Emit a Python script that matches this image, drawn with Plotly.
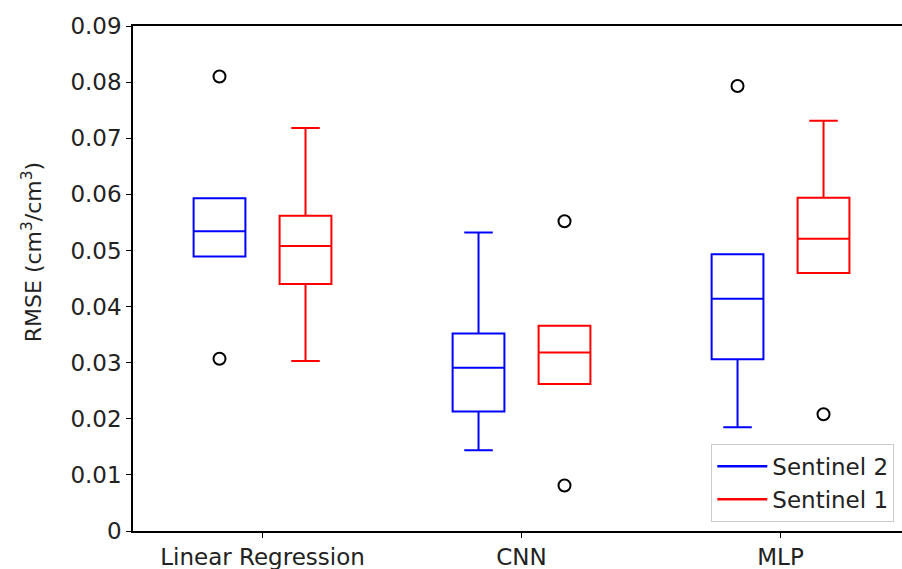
import plotly.graph_objects as go

# ---- data ----
categories = ["Linear Regression", "CNN", "MLP"]
series_names = ["Sentinel 2", "Sentinel 1"]
series_colors = ["#0000ff", "#ff0000"]

s2_lowerfence = [0.0489, 0.0144, 0.0185]
s2_q1 = [0.0489, 0.0213, 0.0306]
s2_median = [0.0534, 0.0291, 0.0414]
s2_q3 = [0.0593, 0.0352, 0.0493]
s2_upperfence = [0.0593, 0.0532, 0.0493]
s2_outlier_cat = [0, 0, 2]
s2_outlier_val = [0.0810, 0.0307, 0.0793]

s1_lowerfence = [0.0303, 0.0262, 0.0460]
s1_q1 = [0.0440, 0.0262, 0.0460]
s1_median = [0.0508, 0.0318, 0.0521]
s1_q3 = [0.0562, 0.0366, 0.0594]
s1_upperfence = [0.0718, 0.0366, 0.0731]
s1_outlier_cat = [1, 1, 2]
s1_outlier_val = [0.0552, 0.0081, 0.0208]

y_tickvals = [0, 0.01, 0.02, 0.03, 0.04, 0.05, 0.06, 0.07, 0.08, 0.09]
y_ticktext = ["0", "0.01", "0.02", "0.03", "0.04", "0.05", "0.06", "0.07", "0.08", "0.09"]

# ---- layout constants ----
FONT = "DejaVu Sans"
offsets = [-0.166, 0.166]
box_width = 0.2

stats = [
    (s2_lowerfence, s2_q1, s2_median, s2_q3, s2_upperfence, s2_outlier_cat, s2_outlier_val),
    (s1_lowerfence, s1_q1, s1_median, s1_q3, s1_upperfence, s1_outlier_cat, s1_outlier_val),
]

fig = go.Figure()
for k, (lf, q1, med, q3, uf, ocat, oval) in enumerate(stats):
    xs = [i + offsets[k] for i in range(len(categories))]
    fig.add_trace(go.Box(
        x=xs, q1=q1, median=med, q3=q3, lowerfence=lf, upperfence=uf,
        width=box_width, whiskerwidth=0.55,
        line=dict(color=series_colors[k], width=2),
        fillcolor="rgba(0,0,0,0)", boxpoints=False,
        showlegend=False, hoverinfo="skip",
    ))
    fig.add_trace(go.Scatter(
        x=[c + offsets[k] for c in ocat], y=oval, mode="markers",
        marker=dict(symbol="circle-open", size=12, color="black", line=dict(width=2, color="black")),
        showlegend=False, hoverinfo="skip",
    ))

for k, name in enumerate(series_names):
    fig.add_trace(go.Scatter(
        x=[None], y=[None], mode="lines", name=name,
        line=dict(color=series_colors[k], width=2.5),
    ))

fig.update_layout(
    width=902, height=569,
    margin=dict(l=133, r=0, t=26, b=38),
    paper_bgcolor="white", plot_bgcolor="white",
    font=dict(family=FONT, size=23, color="#222222"),
    boxmode="overlay",
    showlegend=True,
    legend=dict(
        x=0.990, y=0.018, xanchor="right", yanchor="bottom",
        bgcolor="rgba(255,255,255,0.9)", bordercolor="#cccccc", borderwidth=1,
        font=dict(family=FONT, size=23, color="#222222"),
        itemwidth=50, tracegroupgap=0,
    ),
    annotations=[dict(
        text="RMSE (cm<sup>3</sup>/cm<sup>3</sup>)", textangle=-90,
        xref="paper", yref="paper", x=-0.132, y=0.553,
        xanchor="center", yanchor="middle", showarrow=False,
        font=dict(family=FONT, size=22, color="#222222"),
    )],
)

fig.update_xaxes(
    range=[-0.5, 2.469],
    tickvals=list(range(len(categories))), ticktext=categories,
    tickfont=dict(size=23),
    showline=True, linecolor="black", linewidth=1.5, mirror=True,
    ticks="outside", ticklen=5, tickcolor="black", tickwidth=1,
    showgrid=False, zeroline=False,
)
fig.update_yaxes(
    range=[0, 0.09],
    tickvals=y_tickvals, ticktext=y_ticktext,
    tickfont=dict(size=23),
    showline=True, linecolor="black", linewidth=1.5,
    ticks="outside", ticklen=5, tickcolor="black", tickwidth=1,
    showgrid=False, zeroline=False,
)

fig.write_html("out.html")
